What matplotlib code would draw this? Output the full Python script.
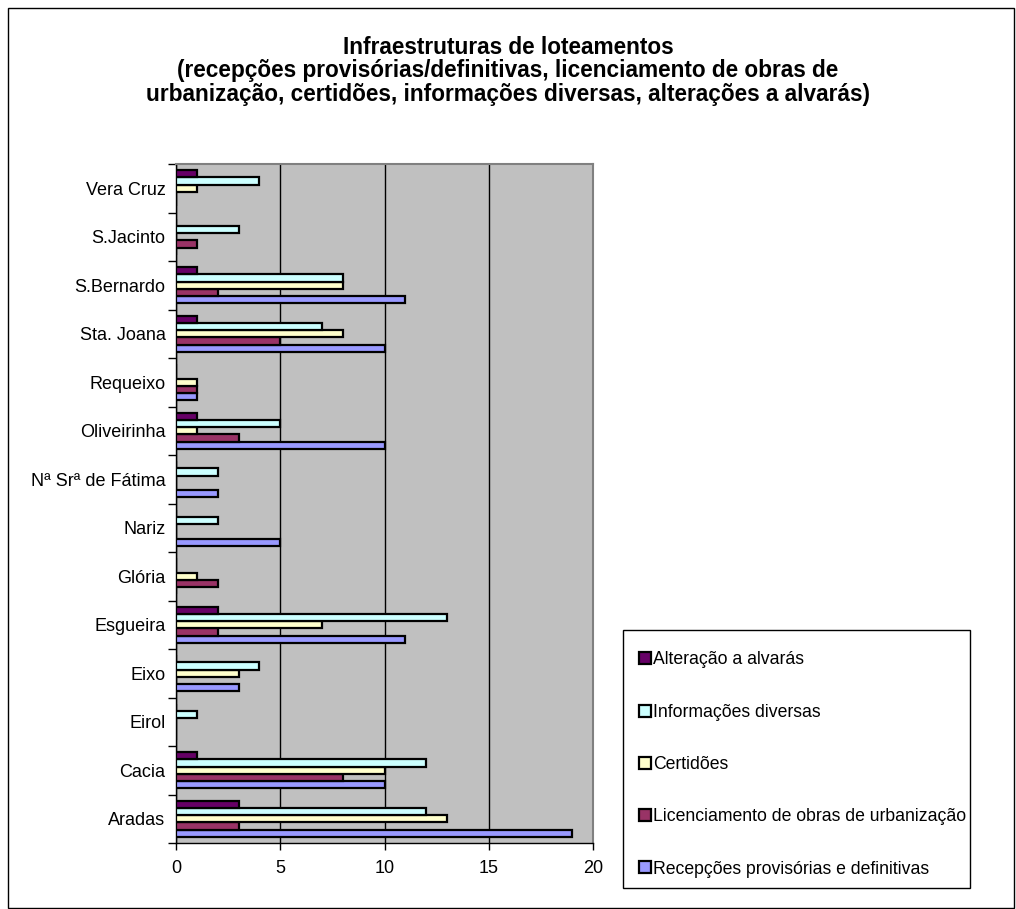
import matplotlib
matplotlib.use("Agg")
import matplotlib.pyplot as plt
import numpy as np
from matplotlib.patches import Rectangle, Patch

plt.rcParams['font.family'] = ['Liberation Sans', 'DejaVu Sans']

categories = ["Aradas", "Cacia", "Eirol", "Eixo", "Esgueira", "Glória", "Nariz",
              "Nª Srª de Fátima", "Oliveirinha", "Requeixo", "Sta. Joana",
              "S.Bernardo", "S.Jacinto", "Vera Cruz"]

recepcoes     = [19, 10, 0, 3, 11, 0, 5, 2, 10, 1, 10, 11, 0, 0]
licenciamento = [3, 8, 0, 0, 2, 2, 0, 0, 3, 1, 5, 2, 1, 0]
certidoes     = [13, 10, 0, 3, 7, 1, 0, 0, 1, 1, 8, 8, 0, 1]
informacoes   = [12, 12, 1, 4, 13, 0, 2, 2, 5, 0, 7, 8, 3, 4]
alteracao     = [3, 1, 0, 0, 2, 0, 0, 0, 1, 0, 1, 1, 0, 1]

series_names = ["Recepções provisórias e definitivas",
                "Licenciamento de obras de urbanização",
                "Certidões",
                "Informações diversas",
                "Alteração a alvarás"]
series_values = [recepcoes, licenciamento, certidoes, informacoes, alteracao]
series_colors = ["#9999FF", "#993366", "#FFFFCC", "#CCFFFF", "#660066"]

W, H = 1016, 909
fig = plt.figure(figsize=(W / 100, H / 100), dpi=100)

# outer border
fig.patches.append(Rectangle((8 / W, 1 / H), (W - 10) / W, (H - 9) / H,
                             transform=fig.transFigure, fill=False,
                             edgecolor="black", linewidth=1.0))

ax = fig.add_axes([176 / W, 1 - 843 / H, (593 - 176) / W, (843 - 164) / H])
ax.set_facecolor("#C0C0C0")

n = len(categories)
y = np.arange(n)
bh = 0.15
for i, (vals, col, name) in enumerate(zip(series_values, series_colors, series_names)):
    offs = (i - 2) * bh
    ax.barh(y + offs, vals, height=bh, color=col, edgecolor="black",
            linewidth=1.6, label=name, zorder=3)

ax.set_xlim(0, 20)
ax.set_ylim(-0.5, n - 0.5)
ax.set_xticks([0, 5, 10, 15, 20])
ax.set_xticklabels(["0", "5", "10", "15", "20"], fontsize=13)
ax.set_yticks(y)
ax.set_yticklabels(categories, fontsize=13)
ax.tick_params(axis='y', which='major', length=0, pad=7.5)
ax.set_yticks(np.arange(-0.5, n, 1.0), minor=True)
ax.tick_params(axis='y', which='minor', length=6, width=1, color="black")
ax.tick_params(axis='x', which='major', length=5, width=1, pad=7)
ax.grid(axis='x', color="black", linewidth=1.0, zorder=1)
for s in ["top", "right"]:
    ax.spines[s].set_color("#808080")
    ax.spines[s].set_linewidth(1.5)
for s in ["left", "bottom"]:
    ax.spines[s].set_color("black")
    ax.spines[s].set_linewidth(1.0)

# title
fig.text(508 / W, 1 - 71 / H,
         "Infraestruturas de loteamentos\n(recepções provisórias/definitivas, licenciamento de obras de\nurbanização, certidões, informações diversas, alterações a alvarás)",
         ha="center", va="center", fontsize=16.3, fontweight="bold", linespacing=1.05)

# legend frame
fig.patches.append(Rectangle((623 / W, 1 - 888 / H), (970 - 623) / W, (888 - 630) / H,
                             transform=fig.transFigure, fill=False,
                             edgecolor="black", linewidth=1.0))

# legend
handles = [Patch(facecolor=c, edgecolor="black", linewidth=1.6, label=nm)
           for c, nm in zip(series_colors, series_names)]
handles = handles[::-1]
leg = fig.legend(handles=handles, loc="center left",
                 bbox_to_anchor=(626 / W, 1 - 893.5 / H, (970 - 626) / W, (888 - 630) / H),
                 mode="expand", fontsize=12.7, frameon=False,
                 labelspacing=2.0, handlelength=0.67,
                 handleheight=0.67, handletextpad=0.12, borderpad=0.75,
                 borderaxespad=0)

fig.savefig("out.png", dpi=100)
